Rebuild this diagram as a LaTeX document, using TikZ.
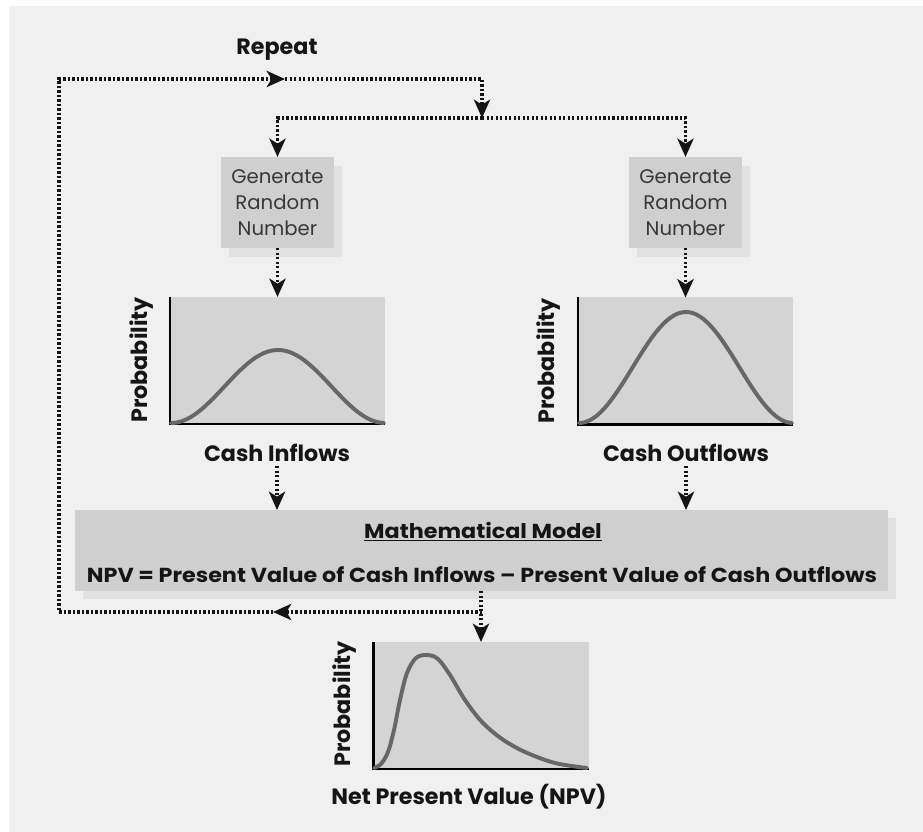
\documentclass[tikz,border=0pt]{standalone}
\usepackage{fontspec}
\setmainfont{Poppins}
\newfontfamily\narrowfont[FakeStretch=1.1]{Poppins}
\usetikzlibrary{arrows.meta,shadows}

\definecolor{pagegray}{HTML}{F0F0F0}
\definecolor{boxgray}{HTML}{CFCFCF}
\definecolor{plotgray}{HTML}{D4D4D4}
\definecolor{shadegray}{HTML}{E1E1E1}
\definecolor{curvegray}{HTML}{676767}
\definecolor{inkgray}{HTML}{151515}

\tikzset{
  dotline/.style={line width=2.4pt, dash pattern=on 1.6pt off 1.6pt, inkgray},
  flow/.style={dotline, -{Stealth[length=13pt, width=11.5pt, inset=3.5pt]}},
  genbox/.style={fill=boxgray, inner sep=0pt, outer sep=0pt,
    minimum width=2.8cm, minimum height=2.275cm, align=center,
    text=inkgray!85, font=\fontsize{14}{18.4}\selectfont,
    general shadow={fill=shadegray, shadow xshift=0.2cm, shadow yshift=-0.225cm}},
  plotbox/.style={fill=plotgray, inner sep=0pt, outer sep=0pt,
    minimum width=5.375cm, minimum height=3.175cm},
  axis/.style={line width=1.6pt, black},
  curve/.style={line width=2.8pt, curvegray, line cap=round, line join=round},
  lbl/.style={text=inkgray, font=\fontsize{15.8}{18}\selectfont\bfseries, inner sep=0.1cm},
  ylbl/.style={lbl, rotate=90},
  modeltext/.style={text=inkgray, font=\fontsize{14.4}{18}\narrowfont\bfseries},
}

\begin{document}
\begin{tikzpicture}[x=0.025cm, y=-0.025cm]
  % Page
  \useasboundingbox (0,0) rectangle (923,832);
  \fill[white] (0,0) rectangle (923,832);
  \fill[pagegray] (9,6) rectangle (923,832);

  % Random number generators
  \node[genbox] (gen1) at (277.5,202.5) {Generate\\Random\\Number};
  \node[genbox] (gen2) at (685.5,202.5) {Generate\\Random\\Number};

  % Input distributions
  \node[plotbox] (inplot)  at (277.5,360.5) {};
  \node[plotbox] (outplot) at (685.5,361) {};
  \draw[axis] (inplot.north west) -- (inplot.south west) -- (inplot.south east);
  \draw[axis] (outplot.north west) -- (outplot.south west) -- (outplot.south east);
  \draw[curve, domain=171:384, samples=80]
       plot(\x, {423 - 73*(1 + cos((\x - 278)/107*180))/2});
  \draw[curve, domain=579:792, samples=80]
       plot(\x, {423 - 111*(1 + cos((\x - 686)/107*180))/2});
  \node[ylbl] (inprob)  at (142,360) {Probability};
  \node[ylbl] (outprob) at (549,361) {Probability};
  \node[lbl] (inlbl)  at (277,453) {Cash Inflows};
  \node[lbl] (outlbl) at (686,453) {Cash Outflows};

  % Model
  \node[fill=boxgray, inner sep=0pt, outer sep=0pt, minimum width=20.325cm,
        minimum height=2.025cm,
        general shadow={fill=shadegray, shadow xshift=0.2cm, shadow yshift=-0.2cm}]
        (model) at (481.5,550.5) {};
  \node[modeltext] (mtitle) at (483,532)
        {\underline{Mathematical Model}};
  \node[modeltext] (formula) at (482,575)
        {NPV = Present Value of Cash Inflows – Present Value of Cash Outflows};

  % Output distribution
  \node[plotbox] (npvplot) at (481,705.5) {};
  \draw[axis] (npvplot.north west) -- (npvplot.south west) -- (npvplot.south east);
  \draw[curve] plot[smooth, tension=0.55] coordinates {
       (374,768) (381,764) (388,752) (394,730) (400,700) (407,673) (416,658)
       (427,655) (438,659) (450,675) (465,700) (482,722) (502,739) (525,752)
       (555,763) (587,768)};
  \node[ylbl] (npvprob) at (345,704) {Probability};
  \node[lbl] (npvlbl) at (469,797) {Net Present Value (NPV)};

  % Repeat loop
  \node[lbl] (repeat) at (277,50) {Repeat};
  \coordinate (split)    at (482,118);
  \coordinate (top)      at (482,79);
  \coordinate (looptl)   at (59,79);
  \coordinate (loopbl)   at (59,612);
  \coordinate (tap)      at (482,612);
  \coordinate (fwdtip)   at (285,79);
  \coordinate (rettip)   at (273,612);

  % Flow arrows
  \draw[flow] (split) -| (gen1.north);
  \draw[flow] (split) -| (gen2.north);
  \draw[flow] (gen1) -- (inplot);
  \draw[flow] (gen2) -- (outplot);
  \draw[flow] (inlbl) -- (inlbl |- model.north);
  \draw[flow] (outlbl) -- (outlbl |- model.north);
  \draw[flow] (npvplot.north |- model.south) -- (npvplot.north);
  \draw[flow] (tap) -- (rettip);
  \draw[flow] (rettip) -- (loopbl) -- (looptl) -- (fwdtip);
  \draw[flow] (fwdtip) -- (top) -- (split);
\end{tikzpicture}
\end{document}
